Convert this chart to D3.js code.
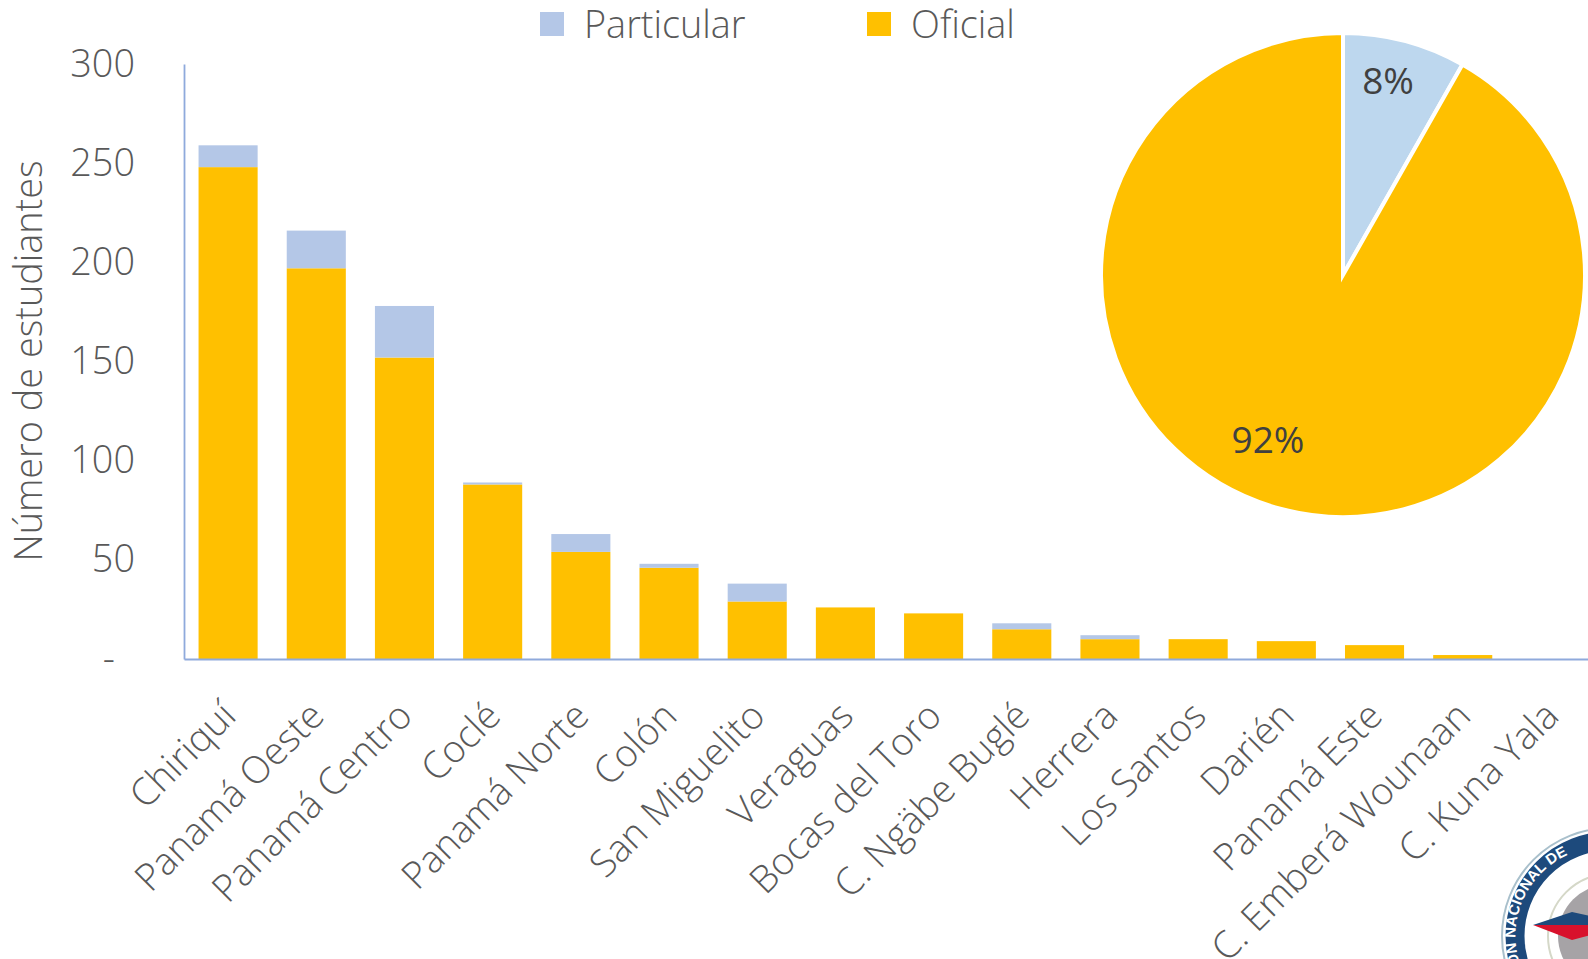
<!DOCTYPE html>
<html><head><meta charset="utf-8">
<script src="https://cdn.jsdelivr.net/npm/d3@7"></script>
<style>html,body{margin:0;padding:0;background:#fff;overflow:hidden}svg{display:block}text{font-family:"Open Sans",sans-serif;font-weight:300;fill:#595959}</style>
</head><body><svg id="c" width="1588" height="959"></svg>
<script>
const categories=["Chiriquí","Panamá Oeste","Panamá Centro","Coclé","Panamá Norte","Colón","San Miguelito","Veraguas","Bocas del Toro","C. Ngäbe Buglé","Herrera","Los Santos","Darién","Panamá Este","C. Emberá Wounaan","C. Kuna Yala"];
const oficial=[248,197,152,88,54,46,29,26,23,15,10,10,9,7,2,0];
const particular=[11,19,26,1,9,2,9,0,0,3,2,0,0,0,0,0];
const yTicks=[0,50,100,150,200,250,300];
const pieLabels=["Particular","Oficial"];
const pieValues=[82,916];
const colors={Oficial:"#FFC000",Particular:"#B4C7E7",pieParticular:"#BDD7EE",axis:"#8FAADC"};
const FS=37.8;

const svg=d3.select("#c");

// seal (behind the text)
const s=svg.append("g").attr("transform","translate(1610,936)");
s.append("circle").attr("r",108).attr("fill","#fff").attr("stroke","#a9c0cc").attr("stroke-width",2);
s.append("circle").attr("r",95).attr("fill","none").attr("stroke","#1d4a7c").attr("stroke-width",19);
s.append("circle").attr("r",62).attr("fill","none").attr("stroke","#d5d8c8").attr("stroke-width",2);
s.append("circle").attr("r",52).attr("fill","#a6a3a6");
s.append("path").attr("d",d3.line()([[-77,-11],[-38,-24],[20,-11]])+"Z").attr("fill","#1d4a7c");
s.append("path").attr("d",d3.line()([[-77,-11],[-38,4],[20,-11]])+"Z").attr("fill","#d8112c");
s.append("path").attr("id","sealArc").attr("d","M -84 42 A 89 89 0 0 1 -8 -89").attr("fill","none");
s.append("text").append("textPath").attr("href","#sealArc").style("font-family","Liberation Sans").style("font-weight",700).style("fill","#fff").attr("font-size",15).text("CIÓN NACIONAL DE");

const x=d3.scaleBand().domain(categories).range([184,1595]).paddingInner(0.33).paddingOuter(0.165);
const y=d3.scaleLinear().domain([0,300]).range([659,64]);

const stack=categories.map((c,i)=>({c,o:oficial[i],p:particular[i]}));
svg.append("g").selectAll("rect.o").data(stack).join("rect").attr("x",d=>x(d.c)).attr("width",x.bandwidth())
 .attr("y",d=>y(d.o)).attr("height",d=>y(0)-y(d.o)).attr("fill",colors.Oficial);
svg.append("g").selectAll("rect.p").data(stack).join("rect").attr("x",d=>x(d.c)).attr("width",x.bandwidth())
 .attr("y",d=>y(d.o+d.p)).attr("height",d=>y(d.o)-y(d.o+d.p)).attr("fill",colors.Particular);

const yAxis=d3.axisLeft(y).tickValues(yTicks).tickSize(0).tickPadding(49).tickFormat(d=>d===0?"-":d);
const gy=svg.append("g").attr("transform","translate(184,0)").call(yAxis);
gy.select(".domain").attr("stroke",colors.axis).attr("stroke-width",1.8);
gy.selectAll("text").attr("font-size",FS).style("font-family",'"Open Sans"');
gy.selectAll(".tick text").filter(d=>d===0).attr("dx",-20);

const xAxis=d3.axisBottom(x).tickSize(0).tickPadding(0);
const gx=svg.append("g").attr("transform","translate(0,659)").call(xAxis);
gx.select(".domain").attr("stroke",colors.axis).attr("stroke-width",1.8);
gx.selectAll("text").attr("font-size",FS).attr("text-anchor","end").attr("dy",0).attr("y",0)
 .attr("transform","translate(10,59) rotate(-45)").style("font-family",'"Open Sans"');

svg.append("text").attr("transform","translate(42,361) rotate(-90)").attr("text-anchor","middle").attr("font-size",FS).text("Número de estudiantes");

// legend
const lg=[{k:"Particular",x:540},{k:"Oficial",x:867}];
lg.forEach(l=>{
 svg.append("rect").attr("x",l.x).attr("y",12).attr("width",24).attr("height",24).attr("fill",colors[l.k]);
 svg.append("text").attr("x",l.x+44).attr("y",38).attr("font-size",FS).text(l.k);
});

// pie
const pie=d3.pie().sort(null)(pieValues);
const arc=d3.arc().innerRadius(0).outerRadius(242);
const gp=svg.append("g").attr("transform","translate(1343,275)");
gp.selectAll("path").data(pie).join("path").attr("d",arc)
 .attr("fill",(d,i)=>i===0?colors.pieParticular:colors.Oficial).attr("stroke","#fff").attr("stroke-width",4);
const total=d3.sum(pieValues);
const lab=[[1388,84],[1268,443]];
pie.forEach((d,i)=>{
 svg.append("text").attr("x",lab[i][0]).attr("y",lab[i][1]).attr("text-anchor","middle").attr("dominant-baseline","middle")
  .attr("font-size",37).style("font-weight",400).style("fill","#404040").text(d3.format(".0%")(d.value/total));
});
</script></body></html>
